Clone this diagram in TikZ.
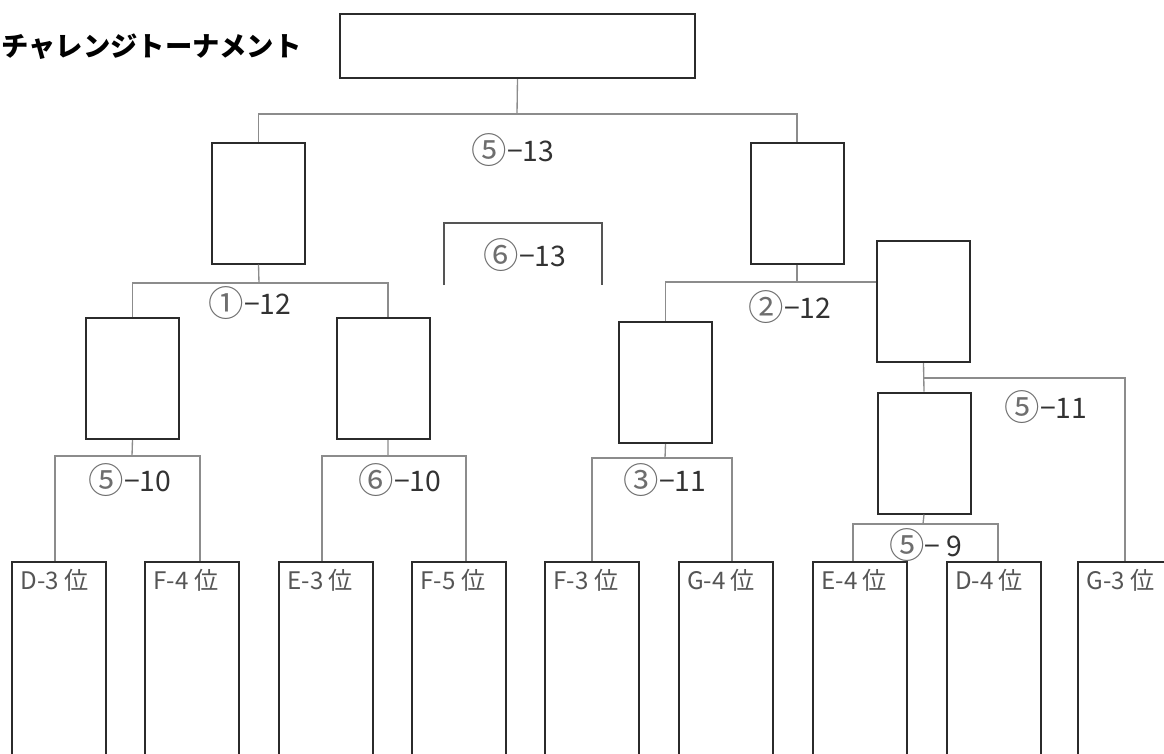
\documentclass[tikz,border=0pt]{standalone}
\usepackage{graphicx}
\usepackage{fontspec}
\newfontfamily\jp{Noto Sans CJK JP}
\definecolor{boxcol}{RGB}{43,43,43}
\definecolor{linecol}{RGB}{140,140,140}
\definecolor{scorecol}{RGB}{50,50,50}
\definecolor{circcol}{RGB}{110,110,110}
\definecolor{seedcol}{RGB}{85,85,85}
\newcommand\circno[1]{{\color{circcol}\raisebox{-0.08em}{\scalebox{1.25}{#1}}}}
\begin{document}
\begin{tikzpicture}[x=0.6pt,y=-0.6pt,line join=miter,
  matchbox/.style={draw=boxcol,line width=1.2pt,inner sep=0pt,minimum width=55.8pt,minimum height=72.6pt},
  seedbox/.style={draw=boxcol,line width=1.2pt,inner sep=0pt,minimum width=56.4pt,minimum height=120pt},
  edge/.style={draw=linecol,line width=0.8pt},
  score/.style={font=\jp\fontsize{17}{19}\selectfont,text=scorecol,inner sep=0pt},
  seedlabel/.style={font=\jp\fontsize{14.5}{16}\selectfont,text=seedcol,inner sep=0pt,anchor=north west,xshift=5.5pt,yshift=-4.5pt}]
  \useasboundingbox (0,0) rectangle (1164,753);
  \clip (0,0) rectangle (1164,753);
%%
  % Node: title
  \node[font=\jp\bfseries\fontsize{16.4}{18}\selectfont,anchor=east,inner sep=0pt] (title) at (302,47) {チャレンジトーナメント};
  % Node: final
  \node[draw=boxcol,line width=1.2pt,inner sep=0pt,minimum width=213pt,minimum height=38.4pt] (final) at (517.5,46) {};
  % Node: semifinals
  \node[matchbox] (semiL) at (258.5,203) {};
  \node[matchbox] (semiR) at (797,203) {};
  % Node: quarterfinals
  \node[matchbox] (qfA) at (132.5,378.5) {};
  \node[matchbox] (qfB) at (383.5,378.5) {};
  \node[matchbox] (qfC) at (665.5,382.5) {};
  \node[matchbox] (rA) at (923.5,301.5) {};
  \node[matchbox] (rB) at (924,453) {};
  % Node: seeds
  \node[seedbox,label={[seedlabel]north west:D-3 位}] (d3) at (59,662) {};
  \node[seedbox,label={[seedlabel]north west:F-4 位}] (f4) at (192,662) {};
  \node[seedbox,label={[seedlabel]north west:E-3 位}] (e3) at (326,662) {};
  \node[seedbox,label={[seedlabel]north west:F-5 位}] (f5) at (459,662) {};
  \node[seedbox,label={[seedlabel]north west:F-3 位}] (f3) at (592,662) {};
  \node[seedbox,label={[seedlabel]north west:G-4 位}] (g4) at (725.5,662) {};
  \node[seedbox,label={[seedlabel]north west:E-4 位}] (e4) at (860,662) {};
  \node[seedbox,label={[seedlabel]north west:D-4 位}] (d4) at (993.5,662) {};
  \node[seedbox,label={[seedlabel]north west:G-3 位}] (g3) at (1125,662) {};
%%
  % Edge: final -> semiL, semiR
  \coordinate (jTop) at (517,114);
  \draw[edge] (final.south) -- (jTop);
  \draw[edge] (semiL.north) |- (jTop) -| (semiR.north);
  % Edge: semiL -> qfA, qfB
  \coordinate (jL) at (259,283);
  \draw[edge] (semiL.south) -- (jL);
  \draw[edge] (qfA.north) |- (jL) -| ([xshift=2.7pt]qfB.north);
  % Edge: semiR -> qfC, rA
  \coordinate (jR) at (797,282);
  \draw[edge] (semiR.south) -- (jR);
  \draw[edge] (qfC.north) |- (jR) -- (jR -| rA.west);
  % Edge: rA -> rB, g3
  \coordinate (jG) at (923,378);
  \draw[edge] (rA.south) -- (rB.north);
  \draw[edge] (jG) -| (g3.north);
  % Edge: qfA -> d3, f4
  \coordinate (jA) at (132,456);
  \draw[edge] (qfA.south) -- (jA);
  \draw[edge] ([xshift=-2.4pt]d3.north) |- (jA) -| ([xshift=4.8pt]f4.north);
  % Edge: qfB -> e3, f5
  \coordinate (jB) at (388,456);
  \draw[edge] ([xshift=2.7pt]qfB.south) -- (jB);
  \draw[edge] ([xshift=-2.4pt]e3.north) |- (jB) -| ([xshift=4.2pt]f5.north);
  % Edge: qfC -> f3, g4
  \coordinate (jC) at (665,458);
  \draw[edge] (qfC.south) -- (jC);
  \draw[edge] (f3.north) |- (jC) -| ([xshift=3.9pt]g4.north);
  % Edge: rB -> e4, d4
  \coordinate (jE) at (923,524);
  \draw[edge] (rB.south) -- (jE);
  \draw[edge] ([xshift=-4.2pt]e4.north) |- (jE) -| ([xshift=2.7pt]d4.north);
  % bracket round 6-13
  \draw[draw=boxcol!80,line width=1pt] (444,285) |- (602,223) -- (602,285);
%%
  % Node: scores
  \node[score] (sc5v13) at (513,150) {\circno{⑤}−13};
  \node[score] (sc6v13) at (525,255) {\circno{⑥}−13};
  \node[score] (sc1v12) at (250,303) {\circno{①}−12};
  \node[score] (sc2v12) at (790,307) {\circno{②}−12};
  \node[score] (sc5v10) at (130,480) {\circno{⑤}−10};
  \node[score] (sc6v10) at (400,480) {\circno{⑥}−10};
  \node[score] (sc3v11) at (665,480) {\circno{③}−11};
  \node[score] (sc5v11) at (1046,407) {\circno{⑤}−11};
  \node[score] (sc5v9) at (926,545) {\circno{⑤}− 9};
%
\end{tikzpicture}
\end{document}
